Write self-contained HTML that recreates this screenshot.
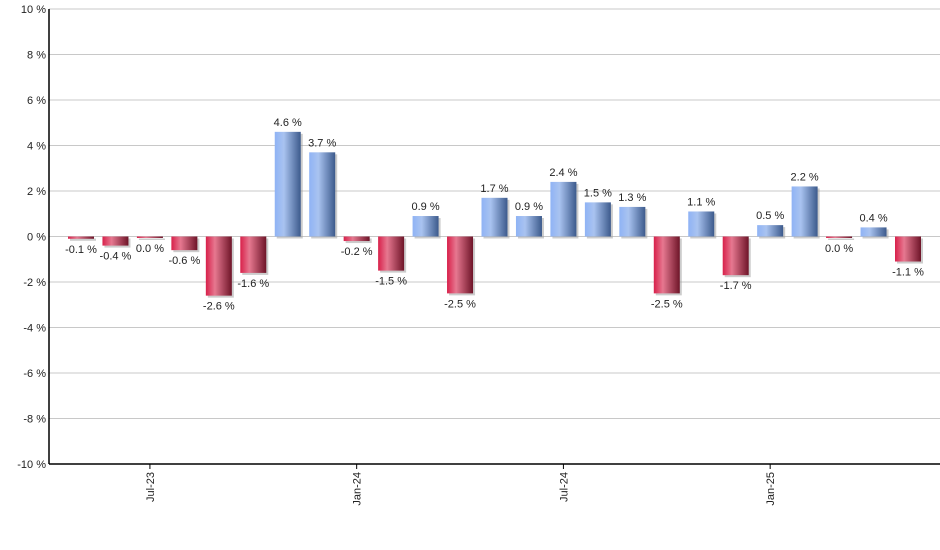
<!DOCTYPE html>
<html><head><meta charset="utf-8"><style>
body{margin:0;background:#fff;}
svg{display:block;font-family:"Liberation Sans",sans-serif;}
</style></head><body>
<svg id="chart" width="940" height="550">
<defs>
<linearGradient id="gBlue" x1="0" x2="1" y1="0" y2="0">
<stop offset="0" stop-color="#8fb3f5"/><stop offset="0.35" stop-color="#a9c3f0"/><stop offset="1" stop-color="#3c5a8c"/></linearGradient>
<linearGradient id="gRed" x1="0" x2="1" y1="0" y2="0">
<stop offset="0" stop-color="#d8204a"/><stop offset="0.35" stop-color="#e67890"/><stop offset="1" stop-color="#6e1428"/></linearGradient>
</defs>
<g id="grid"></g><g id="bars"></g><g id="axes"></g>
</svg>
<script>
const categories=["May-23","Jun-23","Jul-23","Aug-23","Sep-23","Oct-23","Nov-23","Dec-23","Jan-24","Feb-24","Mar-24","Apr-24","May-24","Jun-24","Jul-24","Aug-24","Sep-24","Oct-24","Nov-24","Dec-24","Jan-25","Feb-25","Mar-25","Apr-25","May-25"];
const values=[-0.1,-0.4,-0.04,-0.6,-2.6,-1.6,4.6,3.7,-0.2,-1.5,0.9,-2.5,1.7,0.9,2.4,1.5,1.3,-2.5,1.1,-1.7,0.5,2.2,-0.04,0.4,-1.1];
const yTicks=[10,8,6,4,2,0,-2,-4,-6,-8,-10];
const xLabels=["Jul-23","Jan-24","Jul-24","Jan-25"];
const NS="http://www.w3.org/2000/svg";
const L=49,R=940,T=9,B=464,yMin=-10,yMax=10;
const y=v=>T+(yMax-v)/(yMax-yMin)*(B-T);
const step=(908-81)/24;
const x=i=>81+i*step;
function mk(t,a,p){const e=document.createElementNS(NS,t);for(const k in a)e.setAttribute(k,a[k]);p.appendChild(e);return e;}
const grid=document.getElementById('grid'),bars=document.getElementById('bars'),axes=document.getElementById('axes');
yTicks.forEach(v=>{
 const g=mk('line',{x1:L,x2:R,y1:y(v),y2:y(v),stroke:'#c8c8c8','stroke-width':1},grid);
 
 
 const t=mk('text',{x:L-3,y:y(v)+4,'text-anchor':'end','font-size':11,fill:'#222'},axes);
 t.textContent=v+' %';
 
 
});
values.forEach((v,i)=>{
 const cx=x(i),w=26,y0=y(0),y1=y(v);
 const top=Math.min(y0,y1),h=Math.max(Math.abs(y1-y0),1.5);
 const s=mk('rect',{x:cx-w/2+2,y:top+2,width:w,height:h,fill:'#999',opacity:0.5},bars);
 
 
 const r=mk('rect',{x:cx-w/2,y:top,width:w,height:h,fill:v>=0?'url(#gBlue)':'url(#gRed)'},bars);
 
 
 let txt=(Math.abs(v)<0.05?'0.0':v.toFixed(1))+' %';
 const ly=v>=0?top-6:top+h+14;
 const t=mk('text',{x:cx,y:ly,'text-anchor':'middle','font-size':11,fill:'#222'},bars);
 t.textContent=txt;
 
 
});
const ya=mk('line',{x1:L,x2:L,y1:T,y2:B,stroke:'#000','stroke-width':1.5},axes);


const xa=mk('line',{x1:L,x2:R,y1:B,y2:B,stroke:'#000','stroke-width':1.5},axes);


xLabels.forEach(lb=>{
 const i=categories.indexOf(lb),cx=x(i);
 const tk=mk('line',{x1:cx,x2:cx,y1:B,y2:B+5,stroke:'#000'},axes);
 
 
 const t=mk('text',{x:0,y:0,'text-anchor':'end','font-size':11,fill:'#222',transform:`translate(${cx+4},${B+8}) rotate(-90)`},axes);
 t.textContent=lb;
 
 
});
</script>
</body></html>
